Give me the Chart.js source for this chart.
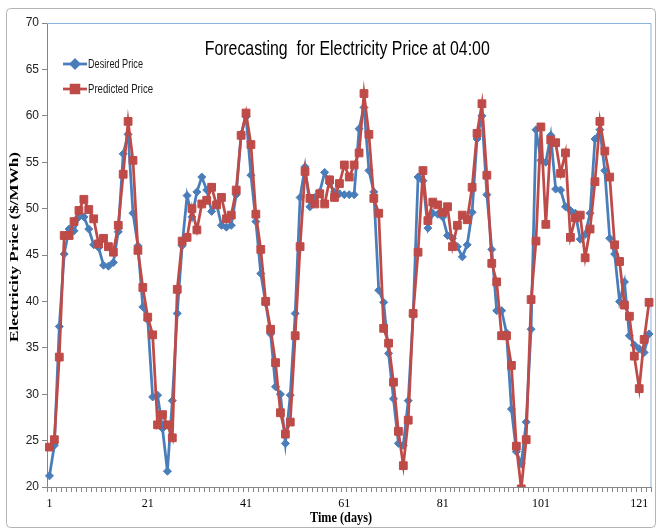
<!DOCTYPE html>
<html>
<head>
<meta charset="utf-8">
<title>Forecasting for Electricity Price at 04:00</title>
<script src="https://cdn.jsdelivr.net/npm/chart.js@4.4.1/dist/chart.umd.min.js"></script>
<style>
    html, body { margin: 0; padding: 0; background: #ffffff; }
    canvas { display: block; }
</style>
</head>
<body>
<canvas id="chart" width="658" height="529"></canvas>
<script>
/*
| Forecasting chart - desired vs predicted electricity price at 04:00
*/

// values, one per day
const desiredPrice = [
    21.2, 24.5, 37.3, 45.1, 47.8, 47.6, 49.1, 49.1, 47.8, 46.1,
    45.8, 43.9, 43.8, 44.2, 47.5, 55.9, 58.0, 49.5, 46.0, 39.4,
    38.0, 29.7, 29.9, 26.3, 21.7, 29.3, 38.7, 46.0, 51.4, 49.1,
    51.8, 53.4, 52.0, 49.7, 50.5, 48.2, 48.0, 48.2, 51.5, 58.0,
    59.9, 53.6, 48.6, 43.0, 39.8, 36.5, 30.8, 30.0, 24.7, 29.9,
    38.7, 51.2, 54.5, 50.2, 51.2, 51.8, 53.9, 52.7, 51.8, 51.6,
    51.5, 51.5, 51.5, 58.6, 60.9, 54.1, 51.8, 41.2, 39.9, 34.4,
    29.5, 24.7, 24.5, 29.3, 38.5, 53.4, 53.0, 47.9, 49.5, 49.4,
    49.1, 47.1, 46.8, 45.9, 44.8, 46.1, 49.6, 57.5, 60.0, 51.5,
    45.6, 39.0, 39.0, 36.6, 28.4, 23.8, 22.5, 27.0, 37.0, 58.5,
    55.2, 55.0, 57.9, 52.1, 52.0, 50.2, 49.8, 49.5, 46.7, 47.2,
    49.5, 57.5, 58.5, 54.1, 46.8, 45.1, 40.0, 42.1, 36.3, 35.3,
    34.9, 34.5, 36.5
];

const predictedPrice = [
    24.3, 25.1, 34.0, 47.1, 47.1, 48.6, 49.8, 51.0, 49.9, 48.9,
    46.2, 46.8, 45.9, 45.3, 48.2, 53.7, 59.4, 55.2, 45.5, 41.5,
    38.3, 36.4, 26.7, 27.8, 26.7, 25.3, 41.3, 46.5, 46.9, 50.0,
    47.7, 50.5, 50.9, 52.3, 50.4, 51.2, 48.9, 49.3, 52.0, 57.9,
    60.3, 56.9, 49.4, 45.6, 40.0, 37.0, 33.4, 28.0, 25.7, 27.0,
    36.3, 45.9, 54.0, 51.1, 50.5, 51.6, 50.5, 53.1, 51.2, 52.7,
    54.7, 53.4, 54.7, 56.0, 62.4, 58.0, 51.1, 49.5, 37.1, 35.5,
    31.3, 26.0, 22.3, 27.2, 38.7, 45.3, 54.1, 48.7, 50.7, 50.4,
    49.6, 50.2, 45.9, 48.2, 49.3, 48.8, 52.3, 58.1, 61.3, 53.6,
    44.1, 42.1, 36.3, 36.3, 33.1, 24.4, 19.8, 25.1, 40.2, 46.5,
    58.8, 48.3, 57.4, 57.1, 53.8, 56.0, 46.9, 49.0, 49.3, 44.7,
    47.8, 52.9, 59.4, 56.2, 53.4, 46.1, 44.3, 39.6, 38.4, 34.1,
    30.6, 35.9, 39.9
];

// category axis: day index, only some of them are labelled
const days = desiredPrice.map((_, i) => i + 1);
const tickDays = [1, 21, 41, 61, 81, 101, 121];

const seriesNames = ["Desired Price", "Predicted Price"];

const chartTitle = "Forecasting  for Electricity Price at 04:00";
const xTitle = "Time (days)";
const yTitle = "Electricity Price ($/MWh)";

const BLUE = "#4A7EBB";
const RED = "#BE4B48";
const AXIS = "#868686";
const SANS = "'Liberation Sans', Arial, sans-serif";
const SERIF = "'Liberation Serif', 'DejaVu Serif', serif";

// the original uses narrow fonts, so squeeze text to the width it had
function fillFitted(ctx, text, x, y, width) {
    const sx = width / ctx.measureText(text).width;
    ctx.save();
    ctx.translate(x, y);
    ctx.scale(sx, 1);
    ctx.fillText(text, 0, 0);
    ctx.restore();
}

// white page and the grey frame round the whole chart
const framePlugin = {
    id: "frame",
    beforeDraw(chart) {
        const ctx = chart.ctx;
        ctx.save();
        ctx.fillStyle = "#ffffff";
        ctx.fillRect(0, 0, chart.width, chart.height);
        ctx.strokeStyle = "#b4b4b4";
        ctx.lineWidth = 1;
        ctx.beginPath();
        ctx.roundRect(6.5, 8.5, chart.width - 9, chart.height - 10, 4);
        ctx.stroke();
        ctx.restore();
    }
};

// thin blue line on top and right of the plot area
const plotBorderPlugin = {
    id: "plotBorder",
    beforeDatasetsDraw(chart) {
        const { ctx, chartArea } = chart;
        ctx.save();
        ctx.strokeStyle = "#8db3e2";
        ctx.lineWidth = 1;
        ctx.beginPath();
        ctx.moveTo(chartArea.left, chartArea.top + 0.5);
        ctx.lineTo(chartArea.right - 0.5, chartArea.top + 0.5);
        ctx.lineTo(chartArea.right - 0.5, chartArea.bottom);
        ctx.stroke();
        ctx.restore();
    }
};

// title, legend and axis titles
const textPlugin = {
    id: "texts",
    afterDraw(chart) {
        const { ctx, chartArea } = chart;
        ctx.save();
        ctx.fillStyle = "#000000";
        ctx.textBaseline = "middle";

        ctx.textAlign = "center";
        ctx.font = "21px " + SANS;
        fillFitted(ctx, chartTitle, (chartArea.left + chartArea.right) / 2 - 2, chartArea.top + 26, 285);

        ctx.font = "bold 15px " + SERIF;
        fillFitted(ctx, xTitle, 341, 518, 62);

        ctx.save();
        ctx.translate(15, 247);
        ctx.rotate(-Math.PI / 2);
        ctx.font = "bold 13px " + SERIF;
        fillFitted(ctx, yTitle, 0, 0, 190);
        ctx.restore();

        const legendWidths = [55, 65];
        chart.data.datasets.forEach((ds, row) => {
            const y = chartArea.top + 41 + row * 25;
            const x0 = chartArea.left + 16;
            const x1 = x0 + 24;

            ctx.strokeStyle = ds.borderColor;
            ctx.lineWidth = ds.borderWidth;
            ctx.beginPath();
            ctx.moveTo(x0, y);
            ctx.lineTo(x1, y);
            ctx.stroke();

            ctx.fillStyle = ds.backgroundColor;
            ctx.strokeStyle = ds.backgroundColor;
            Chart.helpers.drawPoint(ctx, {
                pointStyle: ds.pointStyle,
                radius: ds.pointRadius,
                rotation: 0,
                borderWidth: ds.pointBorderWidth
            }, (x0 + x1) / 2, y);

            ctx.fillStyle = "#1a1a1a";
            ctx.font = "13px " + SANS;
            ctx.textAlign = "left";
            fillFitted(ctx, ds.label, x1 + 1, y, legendWidths[row]);
        });

        ctx.restore();
    }
};

new Chart(document.getElementById("chart"), {
    type: "line",
    data: {
        labels: days,
        datasets: [
            {
                label: seriesNames[0],
                data: desiredPrice,
                order: 1,
                borderColor: BLUE,
                backgroundColor: BLUE,
                borderWidth: 2.75,
                tension: 0,
                pointStyle: "rectRot",
                pointRadius: 4,
                pointBorderWidth: 1,
                pointBackgroundColor: BLUE,
                pointBorderColor: BLUE
            },
            {
                label: seriesNames[1],
                data: predictedPrice,
                order: 0,
                borderColor: RED,
                backgroundColor: RED,
                borderWidth: 2.75,
                tension: 0,
                pointStyle: "rect",
                pointRadius: 5.5,
                pointBorderWidth: 1,
                pointBackgroundColor: RED,
                pointBorderColor: RED
            }
        ]
    },
    options: {
        responsive: false,
        devicePixelRatio: 1,
        animation: false,
        layout: {
            padding: { top: 23, right: 6, left: 0, bottom: 0 }
        },
        plugins: {
            legend: { display: false },
            tooltip: { enabled: false }
        },
        scales: {
            x: {
                type: "category",
                offset: true,
                grid: {
                    offset: true,
                    drawOnChartArea: false,
                    tickLength: 5,
                    color: AXIS
                },
                border: { color: AXIS },
                ticks: {
                    autoSkip: false,
                    maxRotation: 0,
                    padding: 5,
                    color: "#000000",
                    font: { family: SERIF, size: 12 },
                    callback(value, index) {
                        const d = days[index];
                        return tickDays.includes(d) ? String(d) : "";
                    }
                },
                afterFit(scale) {
                    scale.height = 42;
                }
            },
            y: {
                min: 20,
                max: 70,
                grid: {
                    drawOnChartArea: false,
                    tickLength: 5,
                    color: AXIS
                },
                border: { color: AXIS },
                ticks: {
                    stepSize: 5,
                    padding: 3,
                    color: "#222222",
                    font: { family: SANS, size: 12 }
                },
                afterFit(scale) {
                    scale.width = 47;
                }
            }
        }
    },
    plugins: [framePlugin, plotBorderPlugin, textPlugin]
});
</script>
</body>
</html>
